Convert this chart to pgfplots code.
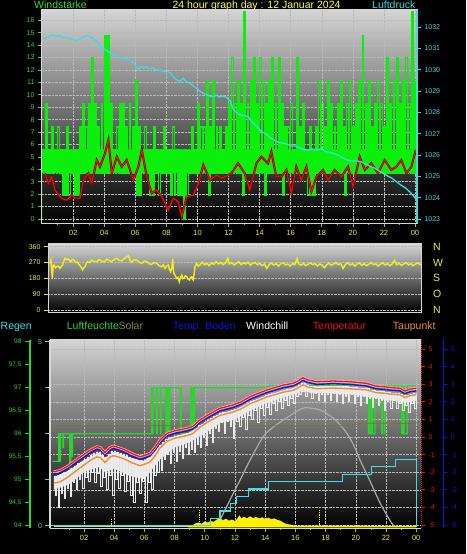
\documentclass[border=0pt]{standalone}
\usepackage{fontspec}
\setmainfont{Liberation Sans}
\usepackage{pgfplots}
\pgfplotsset{compat=1.18}
\definecolor{windgreen}{RGB}{10,240,10}
\definecolor{labgreen}{RGB}{60,215,60}
\definecolor{prcyan}{RGB}{60,220,225}
\definecolor{labyellow}{RGB}{235,235,60}
\definecolor{titleyellow}{RGB}{255,255,90}
\definecolor{gridc}{RGB}{185,185,185}
\definecolor{borderc}{RGB}{215,215,215}
\definecolor{bgtop}{RGB}{212,212,212}
\definecolor{humgreen}{RGB}{40,215,40}
\definecolor{olivec}{RGB}{125,115,40}
\definecolor{solarlab}{RGB}{130,130,50}
\definecolor{tempred}{RGB}{235,20,20}
\definecolor{bodenblue}{RGB}{20,20,225}
\definecolor{taupunkt}{RGB}{240,140,50}
\definecolor{raincyan}{RGB}{60,225,225}
\definecolor{solargray}{RGB}{170,170,170}
\definecolor{diryellow}{RGB}{240,240,25}
\definecolor{paleyg}{RGB}{200,225,120}
\pgfplotsset{
  panel/.style={scale only axis, tick align=outside,
    /pgf/number format/assume math mode=true,
    tick label style={font=\fontsize{7}{8}\selectfont},
    axis line style={-, borderc, line width=1pt},
    major grid style={gridc, densely dotted, line width=0.5pt},
    xtick pos=bottom, ytick pos=left},
  ovl/.style={scale only axis, axis x line=none, tick align=outside,
    /pgf/number format/assume math mode=true,
    /pgf/number format/1000 sep={},
    tick label style={font=\fontsize{7}{8}\selectfont},
    every outer y axis line/.append style={-},
    every inner y axis line/.append style={-}},
  hid/.style={scale only axis, hide axis},
}
\begin{document}
\begin{tikzpicture}
\useasboundingbox (0,0) rectangle (466pt,-554pt);
\fill[black] (0,0) rectangle (466pt,-554pt);
% ---------------- texts
\node[anchor=base west, inner sep=0, text=labgreen, font=\fontsize{10.5}{12}\selectfont] at (34pt,-8.5pt) {Windstärke};
\node[anchor=base, inner sep=0, text=titleyellow, font=\fontsize{10.5}{12}\selectfont] at (256.5pt,-8.5pt) {24 hour graph day : 12 Januar 2024};
\node[anchor=base west, inner sep=0, text=prcyan, font=\fontsize{10.5}{12}\selectfont] at (372pt,-8.5pt) {Luftdruck};
\begin{scope}[every node/.style={anchor=base west, inner sep=0, font=\fontsize{10.5}{12}\selectfont}]
\node[text=raincyan] at (0.5pt,-329.5pt) {Regen};
\node[text=humgreen] at (66.7pt,-329.5pt) {Luftfeuchte};
\node[text=solarlab] at (118.3pt,-329.5pt) {Solar};
\node[text=bodenblue] at (172.7pt,-329.5pt) {Temp. Boden};
\node[text=white] at (246pt,-329.5pt) {Windchill};
\node[text=tempred] at (312.7pt,-329.5pt) {Temperatur};
\node[text=taupunkt] at (392.7pt,-329.5pt) {Taupunkt};
\end{scope}
% ================= PANEL 1 : wind
\begin{axis}[panel, at={(42pt,-223pt)}, anchor=south west, width=375pt, height=213pt,
  xmin=-0.015, xmax=24.13, ymin=-0.322, ymax=16.829,
  axis background/.style={top color=bgtop, bottom color=black},
  xtick={2,4,...,24}, xticklabels={02,04,06,08,10,12,14,16,18,20,22,00},
  minor xtick={1,3,...,23}, ytick={0,1,...,16}, grid=major,
  xticklabel style={text=labyellow, font=\fontsize{7.5}{8}\selectfont},
  yticklabel style={text=labgreen},
  xtick style={draw=gray!70, line width=0.6pt}, ytick style={draw=labgreen, line width=0.8pt},
  major tick length=4pt, minor tick length=2pt]
% dense core band of the wind samples
\addplot[fill=windgreen, draw=none] coordinates {(0,3.7)(24.1,3.7)(24.1,5.6)(0,5.6)} \closedcycle;
\addplot[const plot, windgreen, line width=1.35pt] coordinates {
(0,5.6)(0.1,3.7)(0.2,9.3)(0.3,3.7)(0.4,5.6)(0.5,3.7)(0.6,7.4)(0.7,3.7)(0.8,5.6)(0.9,3.7)(1.0,7.4)(1.1,3.7)(1.2,5.6)(1.3,1.9)(1.4,5.6)(1.5,1.9)(1.6,7.4)(1.7,1.9)(1.8,5.6)(1.9,3.7)(2.0,5.6)(2.1,1.9)(2.2,5.6)(2.3,1.9)(2.4,7.4)(2.5,3.7)
(2.6,9.3)(2.7,3.7)(2.8,7.4)(2.9,3.7)(3.0,9.3)(3.1,3.7)(3.2,13.0)(3.3,3.7)(3.4,9.3)(3.5,3.7)(3.6,7.4)(3.7,3.7)(3.8,9.3)(3.9,3.7)(4.0,14.8)(4.1,3.7)(4.2,14.8)(4.3,3.7)(4.4,9.3)(4.5,3.7)(4.6,5.6)(4.7,3.7)(4.8,7.4)(4.9,3.7)(5.0,9.3)(5.1,3.7)(5.2,9.3)(5.3,3.7)(5.4,7.4)(5.5,3.7)(5.6,9.3)(5.7,3.7)(5.8,7.4)(5.9,3.7)(6.0,11.1)(6.1,1.9)(6.2,7.4)(6.3,1.9)
(6.4,5.6)(6.5,3.7)(6.6,7.4)(6.7,3.7)(6.8,5.6)(6.9,1.9)(7.0,5.6)(7.1,1.9)(7.2,7.4)(7.3,3.7)(7.4,5.6)(7.5,1.9)(7.6,5.6)(7.7,3.7)(7.8,7.4)(7.9,3.7)(8.0,5.6)(8.1,3.7)(8.2,5.6)(8.3,1.9)(8.4,7.4)(8.5,1.9)(8.6,5.6)(8.7,1.9)(8.8,5.6)(8.9,1.9)(9.0,3.7)(9.1,0)(9.2,5.6)(9.3,1.9)(9.4,5.6)(9.5,3.7)(9.6,7.4)(9.7,3.7)(9.8,5.6)(9.9,3.7)
(10.0,9.3)(10.1,3.7)(10.2,7.4)(10.3,3.7)(10.4,7.4)(10.5,3.7)(10.6,11.1)(10.7,1.9)(10.8,7.4)(10.9,3.7)(11.0,11.1)(11.1,3.7)(11.2,7.4)(11.3,3.7)(11.4,7.4)(11.5,3.7)(11.6,5.6)(11.7,3.7)(11.8,7.4)(11.9,3.7)
(12.0,9.3)(12.1,3.7)(12.2,13.0)(12.3,3.7)(12.4,9.3)(12.5,3.7)(12.6,11.1)(12.7,3.7)(12.8,9.3)(12.9,1.9)(13.0,16.7)(13.1,3.7)(13.2,9.3)(13.3,3.7)(13.4,11.1)(13.5,3.7)(13.6,13.0)(13.7,3.7)(13.8,9.3)(13.9,3.7)(14.0,13.0)(14.1,3.7)(14.2,11.1)(14.3,1.9)(14.4,9.3)(14.5,3.7)(14.6,11.1)(14.7,3.7)(14.8,13.0)(14.9,3.7)(15.0,9.3)(15.1,3.7)(15.2,13.0)(15.3,3.7)(15.4,9.3)(15.5,1.9)(15.6,7.4)(15.7,3.7)
(15.8,7.4)(15.9,3.7)(16.0,9.3)(16.1,3.7)(16.2,5.6)(16.3,3.7)(16.4,13.0)(16.5,3.7)(16.6,7.4)(16.7,3.7)(16.8,9.3)(16.9,3.7)(17.0,5.6)(17.1,1.9)(17.2,7.4)(17.3,1.9)(17.4,5.6)(17.5,1.9)(17.6,7.4)(17.7,3.7)
(17.8,11.1)(17.9,3.7)(18.0,9.3)(18.1,3.7)(18.2,7.4)(18.3,3.7)(18.4,11.1)(18.5,3.7)(18.6,9.3)(18.7,3.7)(18.8,7.4)(18.9,3.7)(19.0,9.3)(19.1,3.7)(19.2,11.1)(19.3,3.7)(19.4,7.4)(19.5,1.9)(19.6,9.3)(19.7,3.7)(19.8,11.1)(19.9,3.7)(20.0,7.4)(20.1,3.7)(20.2,9.3)(20.3,3.7)(20.4,11.1)(20.5,3.7)
(20.6,14.8)(20.7,3.7)(20.8,9.3)(20.9,3.7)(21.0,11.1)(21.1,3.7)(21.2,7.4)(21.3,3.7)(21.4,9.3)(21.5,3.7)(21.6,11.1)(21.7,3.7)(21.8,9.3)(21.9,3.7)(22.0,7.4)(22.1,3.7)(22.2,13.0)(22.3,3.7)(22.4,9.3)(22.5,3.7)(22.6,11.1)(22.7,3.7)(22.8,13.0)(22.9,3.7)(23.0,9.3)(23.1,3.7)(23.2,11.1)(23.3,3.7)(23.4,13.0)(23.5,3.7)(23.6,9.3)(23.7,3.7)(23.8,16.7)(23.9,3.7)(24.0,11.1)};
\addplot[red!55!black, line width=2.1pt] coordinates {
(0.18,3.68)(0.39,2.87)(0.61,3.4)(0.82,2.33)(1.15,1.8)(1.35,1.6)(1.58,1.53)(1.9,1.93)(2.11,1.67)(2.43,1.67)(2.65,3.14)(2.97,3.68)(3.19,2.87)(3.51,4.75)(3.72,4.21)(4.04,5.29)(4.26,6.36)(4.48,3.68)(4.8,5.02)(5.12,4.21)(5.44,4.75)(5.87,3.14)(6.19,4.21)(6.41,5.56)(6.73,3.4)(7.05,2.07)(7.37,2.33)(7.69,1.8)(8.12,0.72)(8.44,1.67)(8.76,1.39)(8.98,0.19)(9.3,1.8)(9.73,1.93)(10.05,2.87)(10.37,4.35)(10.8,3.14)(11.24,3.54)(11.56,3.28)(11.98,3.54)(12.18,3.68)(12.61,4.48)(13.04,3.68)(13.36,2.33)(13.79,4.48)(14.11,5.02)(14.54,4.48)(14.75,5.42)(15.07,3.4)(15.4,3.4)(15.72,3.95)(16.04,2.07)(16.36,4.21)(16.68,3.14)(17.01,4.21)(17.33,2.2)(17.65,3.4)(18.08,3.95)(18.4,3.14)(18.83,3.95)(19.26,3.4)(19.69,4.21)(20.01,2.6)(20.44,5.02)(20.77,3.95)(21.19,4.48)(21.62,3.68)(22.05,4.75)(22.48,3.95)(22.8,4.21)(23.12,4.75)(23.45,3.68)(23.77,4.21)(24.05,5.56)};
\addplot[tempred, line width=0.9pt] coordinates {
(0.18,3.68)(0.39,2.87)(0.61,3.4)(0.82,2.33)(1.15,1.8)(1.35,1.6)(1.58,1.53)(1.9,1.93)(2.11,1.67)(2.43,1.67)(2.65,3.14)(2.97,3.68)(3.19,2.87)(3.51,4.75)(3.72,4.21)(4.04,5.29)(4.26,6.36)(4.48,3.68)(4.8,5.02)(5.12,4.21)(5.44,4.75)(5.87,3.14)(6.19,4.21)(6.41,5.56)(6.73,3.4)(7.05,2.07)(7.37,2.33)(7.69,1.8)(8.12,0.72)(8.44,1.67)(8.76,1.39)(8.98,0.19)(9.3,1.8)(9.73,1.93)(10.05,2.87)(10.37,4.35)(10.8,3.14)(11.24,3.54)(11.56,3.28)(11.98,3.54)(12.18,3.68)(12.61,4.48)(13.04,3.68)(13.36,2.33)(13.79,4.48)(14.11,5.02)(14.54,4.48)(14.75,5.42)(15.07,3.4)(15.4,3.4)(15.72,3.95)(16.04,2.07)(16.36,4.21)(16.68,3.14)(17.01,4.21)(17.33,2.2)(17.65,3.4)(18.08,3.95)(18.4,3.14)(18.83,3.95)(19.26,3.4)(19.69,4.21)(20.01,2.6)(20.44,5.02)(20.77,3.95)(21.19,4.48)(21.62,3.68)(22.05,4.75)(22.48,3.95)(22.8,4.21)(23.12,4.75)(23.45,3.68)(23.77,4.21)(24.05,5.56)};
\end{axis}
\begin{axis}[ovl, at={(42pt,-223pt)}, anchor=south west, width=375pt, height=213pt,
  xmin=-0.015, xmax=24.13, ymin=1022.8125, ymax=1032.797,
  axis y line*=right, ytick={1023,1024,...,1032},
  yticklabel style={text=prcyan}, ytick style={draw=prcyan, line width=0.8pt},
  axis line style={-, draw=prcyan, line width=1.2pt}, major tick length=4pt]
\addplot[prcyan, line width=1.3pt] coordinates {
(0.07,1031.44)(0.3,1031.5)(0.5,1031.58)(0.71,1031.62)(0.9,1031.55)(1.1,1031.6)(1.3,1031.52)(1.58,1031.52)(1.8,1031.45)(2.0,1031.4)(2.22,1031.36)(2.4,1031.44)(2.6,1031.52)(2.87,1031.58)(3.05,1031.55)(3.29,1031.47)(3.5,1031.32)(3.7,1031.15)(3.93,1031.0)(4.1,1030.92)(4.3,1030.82)(4.58,1030.69)(4.8,1030.64)(5.0,1030.55)(5.22,1030.49)(5.4,1030.52)(5.65,1030.45)(5.9,1030.3)(6.05,1030.12)(6.19,1030.03)(6.4,1030.15)(6.55,1030.08)(6.73,1030.14)(6.9,1030.05)(7.1,1030.08)(7.3,1030.0)(7.59,1029.98)(7.8,1029.9)(8.0,1029.92)(8.23,1029.86)(8.4,1029.7)(8.6,1029.55)(8.87,1029.44)(9.09,1029.6)(9.25,1029.45)(9.52,1029.36)(9.8,1029.2)(10.1,1029.02)(10.37,1028.89)(10.6,1028.82)(10.8,1028.75)(11.02,1028.73)(11.2,1028.8)(11.4,1028.72)(11.66,1028.77)(11.85,1028.7)(12.09,1028.55)(12.3,1028.15)(12.5,1028.0)(12.74,1027.87)(13.0,1027.85)(13.25,1027.8)(13.5,1027.55)(13.8,1027.35)(14.11,1027.1)(14.4,1027.0)(14.7,1026.8)(14.9,1026.72)(15.18,1026.6)(15.5,1026.55)(15.8,1026.5)(16.0,1026.42)(16.26,1026.42)(16.5,1026.35)(16.8,1026.28)(17.12,1026.23)(17.4,1026.28)(17.7,1026.24)(17.97,1026.3)(18.2,1026.18)(18.5,1026.12)(18.83,1026.05)(19.1,1025.98)(19.4,1025.85)(19.69,1025.75)(20.0,1025.72)(20.3,1025.72)(20.55,1025.68)(20.8,1025.58)(21.1,1025.48)(21.41,1025.38)(21.7,1025.25)(22.0,1025.12)(22.27,1025.0)(22.5,1024.92)(22.8,1024.75)(23.12,1024.58)(23.4,1024.45)(23.7,1024.25)(23.99,1024.0)(24.1,1023.9)};
\end{axis}
% ================= PANEL 2 : wind direction
\begin{axis}[panel, at={(48pt,-312.3pt)}, anchor=south west, width=373.7pt, height=68.3pt,
  xmin=0, xmax=24, ymin=-13, ymax=375.4,
  axis background/.style={top color=bgtop, bottom color=black},
  xtick=\empty, ytick={0,90,180,270,360}, ymajorgrids,
  yticklabel style={text=labyellow}, ytick style={draw=labyellow, line width=0.8pt},
  major tick length=4pt]
\addplot[diryellow, line width=1.4pt] coordinates {
(0.13,265)(0.19,284)(0.28,180)(0.33,250)(0.39,256)(0.48,240)(0.56,246)(0.66,250)(0.77,237)(0.85,248)(0.94,256)(1.02,280)(1.09,294)(1.2,286)(1.31,290)(1.38,282)(1.46,275)(1.56,288)(1.67,284)(1.78,270)(1.88,275)(1.97,262)(2.06,252)(2.15,240)(2.23,228)(2.3,240)(2.38,246)(2.45,262)(2.53,275)(2.67,270)(2.81,284)(2.97,276)(3.13,275)(3.29,286)(3.45,279)(3.61,272)(3.77,290)(3.93,281)(4.09,275)(4.25,288)(4.41,294)(4.57,283)(4.73,279)(4.89,292)(5.05,301)(5.16,309)(5.26,285)(5.37,271)(5.53,286)(5.7,284)(5.86,272)(6.02,265)(6.18,278)(6.34,275)(6.5,262)(6.66,260)(6.82,270)(6.98,265)(7.14,252)(7.3,246)(7.4,258)(7.51,237)(7.62,250)(7.73,256)(7.8,232)(7.88,218)(7.95,240)(8.01,290)(8.05,230)(8.09,208)(8.18,195)(8.27,180)(8.35,186)(8.43,161)(8.51,185)(8.59,199)(8.66,178)(8.73,180)(8.82,195)(8.91,189)(9.0,175)(9.08,171)(9.15,185)(9.23,189)(9.28,176)(9.33,171)(9.44,246)(9.55,265)(9.65,250)(9.76,256)(9.9,272)(10.05,258)(10.2,266)(10.35,252)(10.5,268)(10.65,260)(10.8,275)(10.95,262)(11.1,270)(11.25,258)(11.4,268)(11.55,294)(11.65,262)(11.8,270)(11.95,256)(12.1,266)(12.25,275)(12.4,258)(12.55,268)(12.7,262)(12.85,272)(13.0,255)(13.15,265)(13.3,270)(13.45,258)(13.6,266)(13.75,252)(13.9,262)(14.05,237)(14.2,258)(14.35,268)(14.5,256)(14.65,264)(14.8,250)(14.95,262)(15.1,270)(15.25,256)(15.4,262)(15.55,250)(15.7,264)(15.85,258)(16.0,292)(16.1,262)(16.25,255)(16.4,266)(16.55,252)(16.7,260)(16.85,268)(17.0,258)(17.15,264)(17.3,250)(17.45,262)(17.6,256)(17.75,240)(17.9,258)(18.05,266)(18.2,254)(18.35,262)(18.5,270)(18.65,258)(18.8,264)(18.95,237)(19.1,260)(19.25,268)(19.4,256)(19.55,264)(19.7,250)(19.85,262)(20.0,268)(20.15,255)(20.3,264)(20.45,252)(20.6,260)(20.75,270)(20.9,258)(21.05,264)(21.2,250)(21.35,262)(21.5,268)(21.65,256)(21.8,264)(21.95,252)(22.1,262)(22.25,282)(22.4,258)(22.55,266)(22.7,254)(22.85,262)(23.0,270)(23.15,256)(23.3,264)(23.45,252)(23.6,262)(23.75,268)(23.9,258)(24.0,262)};
\end{axis}
\begin{axis}[ovl, at={(48pt,-312.3pt)}, anchor=south west, width=373.7pt, height=68.3pt,
  xmin=0, xmax=24, ymin=-13, ymax=375.4, axis y line*=right,
  ytick={0,90,180,270,360}, yticklabels={N,O,S,W,N},
  yticklabel style={text=labyellow, font=\fontsize{10.5}{12}\selectfont, xshift=8pt},
  major tick length=0pt, axis line style={draw=none}]
\end{axis}
% ================= PANEL 3 : temperatures etc.
\begin{axis}[panel, at={(50pt,-528pt)}, anchor=south west, width=371pt, height=188.5pt,
  xmin=-0.252, xmax=24.32, ymin=-5.17, ymax=5.54,
  axis background/.style={top color=bgtop, bottom color=black},
  separate axis lines, y axis line style={draw=none},
  xtick={2,4,...,24}, xticklabels={02,04,06,08,10,12,14,16,18,20,22,00},
  minor xtick={1,3,...,23}, ytick={-5,-4,...,5}, yticklabel=\empty, grid=major,
  xticklabel style={text=labyellow, font=\fontsize{7.5}{8}\selectfont},
  xtick style={draw=gray!70, line width=0.6pt}, ytick style={draw=none},
  major tick length=4pt, minor tick length=2pt]
\end{axis}
% solar
\begin{axis}[hid, at={(50pt,-528pt)}, anchor=south west, width=371pt, height=188.5pt,
  xmin=-0.252, xmax=24.32, ymin=-5.3, ymax=999]
\addplot[paleyg, line width=2.4pt] coordinates {(0,4)(9.5,4)};
\addplot[solargray, line width=1.2pt, smooth] coordinates {
(10.56,0)(10.8,15)(11.0,37)(11.89,180)(12.4,260)(13.0,357)(13.87,481)(14.5,530)(15.2,570)(16.3,627)(16.64,636)(17.63,624)(18.51,580)(18.9,550)(19.4,500)(19.9,430)(20.28,357)(20.8,270)(21.16,206)(21.6,130)(22.05,64)(22.3,30)(22.48,11)(22.7,0)};
\addplot[fill=yellow, draw=yellow, line width=0.5pt] coordinates {
(8.9,0)(8.9,3)(9.2,8)(9.4,18)(9.6,22)(9.8,15)(10.0,28)(10.2,22)(10.4,30)(10.6,26)(10.8,38)(11.0,45)(11.2,35)(11.4,42)(11.6,32)(11.8,38)(12.0,30)(12.15,42)(12.3,60)(12.4,45)(12.6,52)(12.8,44)(13.0,55)(13.2,46)(13.4,52)(13.6,44)(13.8,50)(14.0,42)(14.2,48)(14.4,40)(14.6,44)(14.8,36)(15.0,32)(15.2,22)(15.4,15)(15.6,12)(15.9,8)(16.2,6)(24.0,5)(24.0,0)} \closedcycle;
\addplot[ycomb, yellow, densely dotted, line width=0.8pt] coordinates {(3.83,48)(9.62,90)(17.6,90)};
\end{axis}
% humidity
\begin{axis}[hid, at={(50pt,-528pt)}, anchor=south west, width=371pt, height=188.5pt,
  xmin=-0.252, xmax=24.32, ymin=93.95, ymax=98.048]
\addplot[humgreen, line width=1.1pt] coordinates {
(-0.1,95.4)(0.33,95.4)(0.33,96.0)(0.4,96.0)(0.4,95.4)(0.45,95.4)(0.45,96.0)(0.6,96.0)(0.6,95.7)(0.65,95.7)(0.65,96.0)(1.05,96.0)(1.05,95.0)(1.12,95.0)(1.12,96.0)(1.2,96.0)(1.2,95.5)(1.25,95.5)(1.25,96.0)
(6.48,96.0)(6.48,97.0)(6.53,97.0)(6.53,96.0)(6.58,96.0)(6.58,97.0)(6.8,97.0)(6.8,96.0)(6.85,96.0)(6.85,97.0)(7.06,97.0)(7.06,96.0)(7.1,96.0)(7.1,97.0)(7.43,97.0)(7.43,96.0)(7.48,96.0)(7.48,97.0)(7.53,97.0)(7.53,96.0)(7.58,96.0)(7.58,97.0)(7.63,97.0)(7.63,96.0)(7.68,96.0)(7.68,97.0)(8.38,97.0)(8.38,96.0)(8.42,96.0)(8.42,97.0)(8.45,97.0)(8.45,96.0)
(9.07,96.0)(9.07,97.0)(9.12,97.0)(9.12,96.0)(9.17,96.0)(9.17,97.0)(9.22,97.0)(9.22,96.0)(9.3,96.0)(9.3,97.0)(14.0,97.0)(14.3,97.05)(20.83,97.05)(20.83,96.0)(20.9,96.0)(20.9,97.0)(20.95,97.0)(20.95,96.0)(21.05,96.0)(21.05,96.9)(21.1,96.9)(21.1,96.0)(21.27,96.0)(21.27,97.05)(21.71,97.05)(21.71,96.0)(21.76,96.0)(21.76,97.05)(21.88,97.05)(21.88,96.0)(21.93,96.0)(21.93,97.05)(23.04,97.05)(23.04,96.0)(23.12,96.0)(23.12,97.0)(23.2,97.0)(23.2,96.0)(23.41,96.0)(23.41,97.05)(24.0,97.05)};
\end{axis}
% rain
\begin{axis}[hid, at={(50pt,-528pt)}, anchor=south west, width=371pt, height=188.5pt,
  xmin=-0.252, xmax=24.32, ymin=-0.0625, ymax=5.06]
\addplot[raincyan, line width=1.3pt] coordinates {
(-0.2,0)(10.4,0)(10.4,0.2)(11.0,0.2)(11.0,0.4)(11.7,0.4)(11.7,0.6)(12.1,0.6)(12.1,0.8)(12.9,0.8)(12.9,1.0)(14.2,1.0)(14.2,1.2)(19.1,1.2)(19.1,1.4)(21.05,1.4)(21.05,1.6)(22.65,1.6)(22.65,1.8)(24.0,1.8)(24.0,0)(24.2,0)};
\end{axis}
% temperatures
\begin{axis}[hid, at={(50pt,-528pt)}, anchor=south west, width=371pt, height=188.5pt,
  xmin=-0.252, xmax=24.32, ymin=-5.17, ymax=5.54]
\addplot[olivec, line width=0.8pt] coordinates {(-0.25,0.64)(19.4,0.64)(20.5,0.78)(24.0,0.78)};
% dense core of the windchill samples
\addplot[fill=white!90!black, draw=none] coordinates {
(0,-2.27)(1,-1.9)(2,-1.3)(3,-0.88)(3.4,-1.19)(4,-0.82)(5,-1.16)(6,-1.35)(7,-0.5)(8,0.05)(9,0.25)(10,0.82)(11,1.33)(12,1.55)(13,1.99)(14,2.34)(15,2.6)(16,2.82)(16.5,3.05)(17,2.88)(18,2.88)(19,2.86)(20,2.8)(21,2.67)(22,2.54)(23,2.44)(23.2,2.33)(24,2.47)
(24,2.05)(23.2,1.95)(23,2.0)(22,2.1)(21,2.25)(20,2.4)(19,2.45)(18,2.5)(17,2.5)(16.5,2.65)(16,2.45)(15,2.2)(14,1.9)(13,1.5)(12,1.0)(11,0.8)(10,0.2)(9,-0.3)(8,-0.6)(7,-1.3)(6,-2.4)(5,-2.2)(4,-1.8)(3.4,-2.0)(3,-1.7)(2,-2.0)(1,-2.7)(0,-3.0)} -- cycle;
\addplot[const plot, white!92!black, line width=1.0pt] coordinates {
(0.0,-2.27)(0.1,-3.3)(0.2,-2.23)(0.3,-4.0)(0.4,-2.2)(0.5,-3.2)(0.6,-2.1)(0.7,-3.5)(0.8,-2.0)(0.9,-2.9)(1.0,-1.9)(1.1,-3.4)(1.2,-1.77)(1.3,-2.6)(1.4,-1.65)(1.5,-3.0)(1.6,-1.53)(1.7,-2.4)(1.8,-1.42)(1.9,-2.9)(2.0,-1.3)(2.1,-2.3)(2.2,-1.17)(2.3,-2.5)(2.4,-1.05)(2.5,-2.0)(2.6,-0.96)(2.7,-2.6)(2.8,-0.86)(2.9,-2.1)(3.0,-0.88)(3.1,-2.8)(3.2,-1.0)(3.3,-2.3)(3.4,-1.19)(3.5,-3.0)(3.6,-1.0)(3.7,-2.2)(3.8,-0.85)(3.9,-3.3)(4.0,-0.82)(4.1,-2.4)(4.2,-0.87)(4.3,-2.9)(4.4,-0.93)(4.5,-2.2)(4.6,-1.0)(4.7,-3.1)(4.8,-1.07)(4.9,-2.5)(5.0,-1.16)(5.1,-3.3)(5.2,-1.25)(5.3,-3.7)(5.4,-1.32)(5.5,-2.6)(5.6,-1.39)(5.7,-3.2)(5.8,-1.4)(5.9,-2.5)(6.0,-1.35)(6.1,-3.7)(6.2,-1.29)(6.3,-2.6)(6.4,-1.2)(6.5,-3.0)(6.6,-1.0)(6.7,-2.2)(6.8,-0.72)(6.9,-2.0)(7.0,-0.5)(7.1,-1.9)(7.2,-0.3)(7.3,-1.3)(7.4,-0.15)(7.5,-1.0)(7.6,-0.06)(7.7,-1.5)(7.8,0.0)(7.9,-0.9)(8.0,0.05)(8.1,-1.4)(8.2,0.08)(8.3,-0.8)(8.4,0.11)(8.5,-1.2)(8.6,0.15)(8.7,-0.6)(8.8,0.19)(8.9,-1.0)(9.0,0.25)(9.1,-0.7)(9.2,0.3)(9.3,-0.9)(9.4,0.45)(9.5,-0.4)(9.6,0.63)(9.7,-0.6)(9.8,0.73)(9.9,0.0)(10.0,0.82)(10.1,-0.5)(10.2,0.95)(10.3,0.2)(10.4,1.05)(10.5,-0.3)(10.6,1.15)(10.7,0.5)(10.8,1.25)(10.9,0.3)(11.0,1.33)(11.1,0.8)(11.2,1.38)(11.3,0.2)(11.4,1.42)(11.5,0.9)(11.6,1.47)(11.7,0.6)(11.8,1.5)(11.9,-0.1)(12.0,1.55)(12.1,0.9)(12.2,1.63)(12.3,0.6)(12.4,1.7)(12.5,1.1)(12.6,1.8)(12.7,0.4)(12.8,1.9)(12.9,1.2)(13.0,1.99)(13.1,1.0)(13.2,2.06)(13.3,1.5)(13.4,2.13)(13.5,0.8)(13.6,2.2)(13.7,1.6)(13.8,2.27)(13.9,1.2)(14.0,2.34)(14.1,1.7)(14.2,2.4)(14.3,1.3)(14.4,2.45)(14.5,1.9)(14.6,2.5)(14.7,1.5)(14.8,2.55)(14.9,2.0)(15.0,2.6)(15.1,1.6)(15.2,2.65)(15.3,2.1)(15.4,2.68)(15.5,1.8)(15.6,2.72)(15.7,2.2)(15.8,2.75)(15.9,1.9)(16.0,2.82)(16.1,2.3)(16.2,2.9)(16.3,2.4)(16.4,3.03)(16.5,2.6)(16.6,3.05)(16.7,2.3)(16.8,2.95)(16.9,2.6)(17.0,2.88)(17.1,2.2)(17.2,2.85)(17.3,2.5)(17.4,2.84)(17.5,2.1)(17.6,2.85)(17.7,2.4)(17.8,2.87)(17.9,2.0)(18.0,2.88)(18.1,2.4)(18.2,2.89)(18.3,2.1)(18.4,2.88)(18.5,2.5)(18.6,2.87)(18.7,2.0)(18.8,2.86)(18.9,2.4)(19.0,2.86)(19.1,1.9)(19.2,2.85)(19.3,2.3)(19.4,2.85)(19.5,2.0)(19.6,2.84)(19.7,2.4)(19.8,2.82)(19.9,1.9)(20.0,2.8)(20.1,2.3)(20.2,2.78)(20.3,1.8)(20.4,2.77)(20.5,2.3)(20.6,2.75)(20.7,1.9)(20.8,2.73)(20.9,2.2)(21.0,2.67)(21.1,1.7)(21.2,2.62)(21.3,2.2)(21.4,2.59)(21.5,1.8)(21.6,2.57)(21.7,2.1)(21.8,2.56)(21.9,1.5)(22.0,2.54)(22.1,2.0)(22.2,2.52)(22.3,1.6)(22.4,2.5)(22.5,2.1)(22.6,2.49)(22.7,1.6)(22.8,2.48)(22.9,1.9)(23.0,2.44)(23.1,1.5)(23.2,2.33)(23.3,1.8)(23.4,2.35)(23.5,1.4)(23.6,2.42)(23.7,1.9)(23.8,2.46)(23.9,1.6)(24.0,2.47)};
\addplot[taupunkt, line width=1.4pt] coordinates {
(0.0,-2.62)(0.4,-2.55)(0.85,-2.33)(1.4,-1.97)(1.95,-1.62)(2.4,-1.34)(2.84,-1.13)(3.1,-1.17)(3.39,-1.45)(3.7,-1.15)(3.94,-1.06)(4.3,-1.14)(4.72,-1.27)(5.2,-1.47)(5.71,-1.63)(6.0,-1.55)(6.37,-1.42)(6.7,-1.08)(7.03,-0.63)(7.48,-0.25)(8.0,-0.07)(8.8,0.08)(9.2,0.19)(9.68,0.57)(10.3,0.9)(11.0,1.23)(11.87,1.42)(12.4,1.6)(13.0,1.89)(14.1,2.27)(15.2,2.55)(15.84,2.65)(16.2,2.8)(16.5,2.97)(16.8,2.85)(17.4,2.74)(18.5,2.78)(19.6,2.74)(20.7,2.68)(21.3,2.53)(21.8,2.49)(22.4,2.43)(22.93,2.4)(23.25,2.24)(23.6,2.35)(24.0,2.4)};
\addplot[bodenblue, line width=1.4pt] coordinates {
(0.0,-2.12)(0.4,-2.05)(0.85,-1.84)(1.4,-1.5)(1.95,-1.17)(2.4,-0.9)(2.84,-0.7)(3.1,-0.75)(3.39,-1.04)(3.7,-0.75)(3.94,-0.66)(4.3,-0.75)(4.72,-0.89)(5.2,-1.1)(5.71,-1.27)(6.0,-1.2)(6.37,-1.08)(6.7,-0.75)(7.03,-0.32)(7.48,0.05)(8.0,0.2)(8.8,0.34)(9.2,0.45)(9.68,0.82)(10.3,1.15)(11.0,1.48)(11.87,1.67)(12.4,1.85)(13.0,2.14)(14.1,2.52)(15.2,2.8)(15.84,2.9)(16.2,3.05)(16.5,3.22)(16.8,3.1)(17.4,2.99)(18.5,3.03)(19.6,2.99)(20.7,2.9)(21.3,2.75)(21.8,2.71)(22.4,2.65)(22.93,2.62)(23.25,2.46)(23.6,2.57)(24.0,2.62)};
\addplot[white!75!red, line width=2.6pt] coordinates {
(0.0,-1.97)(0.4,-1.9)(0.85,-1.69)(1.4,-1.35)(1.95,-1.02)(2.4,-0.75)(2.84,-0.55)(3.1,-0.6)(3.39,-0.89)(3.7,-0.6)(3.94,-0.51)(4.3,-0.6)(4.72,-0.74)(5.2,-0.95)(5.71,-1.12)(6.0,-1.05)(6.37,-0.93)(6.7,-0.6)(7.03,-0.17)(7.48,0.2)(8.0,0.35)(8.8,0.49)(9.2,0.6)(9.68,0.97)(10.3,1.3)(11.0,1.63)(11.87,1.82)(12.4,2.0)(13.0,2.29)(14.1,2.67)(15.2,2.95)(15.84,3.05)(16.2,3.2)(16.5,3.37)(16.8,3.25)(17.4,3.14)(18.5,3.18)(19.6,3.14)(20.7,3.05)(21.3,2.9)(21.8,2.86)(22.4,2.8)(22.93,2.77)(23.25,2.61)(23.6,2.72)(24.0,2.77)};
\addplot[tempred, line width=1.3pt] coordinates {
(0.0,-1.97)(0.4,-1.9)(0.85,-1.69)(1.4,-1.35)(1.95,-1.02)(2.4,-0.75)(2.84,-0.55)(3.1,-0.6)(3.39,-0.89)(3.7,-0.6)(3.94,-0.51)(4.3,-0.6)(4.72,-0.74)(5.2,-0.95)(5.71,-1.12)(6.0,-1.05)(6.37,-0.93)(6.7,-0.6)(7.03,-0.17)(7.48,0.2)(8.0,0.35)(8.8,0.49)(9.2,0.6)(9.68,0.97)(10.3,1.3)(11.0,1.63)(11.87,1.82)(12.4,2.0)(13.0,2.29)(14.1,2.67)(15.2,2.95)(15.84,3.05)(16.2,3.2)(16.5,3.37)(16.8,3.25)(17.4,3.14)(18.5,3.18)(19.6,3.14)(20.7,3.05)(21.3,2.9)(21.8,2.86)(22.4,2.8)(22.93,2.77)(23.25,2.61)(23.6,2.72)(24.0,2.77)};
\end{axis}
% axis decorations panel 3
\begin{axis}[ovl, at={(30pt,-528pt)}, anchor=south west, width=1pt, height=188.5pt,
  xmin=0, xmax=1, ymin=93.95, ymax=98.048, axis y line*=left,
  ytick={94,94.5,...,98}, /pgf/number format/use comma,
  yticklabel style={text=humgreen, font=\fontsize{6.5}{8}\selectfont}, ytick style={draw=humgreen, line width=0.9pt},
  axis line style={-, draw=humgreen, line width=1.8pt}, major tick length=5pt]
\end{axis}
\begin{axis}[ovl, at={(50pt,-528pt)}, anchor=south west, width=371pt, height=188.5pt,
  xmin=0, xmax=1, ymin=-0.0625, ymax=5.06, axis y line*=left,
  ytick={0,1.25,2.5,3.75,5}, yticklabels={0,,,,5},
  yticklabel style={text=raincyan}, ytick style={draw=raincyan, line width=0.9pt},
  axis line style={-, draw=borderc, line width=1.2pt}, major tick length=4.5pt]
\end{axis}
\begin{axis}[ovl, at={(50pt,-528pt)}, anchor=south west, width=371pt, height=188.5pt,
  xmin=0, xmax=1, ymin=-5.17, ymax=5.54, axis y line*=right,
  ytick={-5,-4,...,5},
  yticklabel style={text=tempred}, ytick style={draw=tempred, line width=0.9pt},
  axis line style={-, draw=tempred, densely dotted, line width=1pt}, major tick length=4pt]
\end{axis}
\begin{axis}[ovl, at={(442.3pt,-528pt)}, anchor=south west, width=1pt, height=188.5pt,
  xmin=0, xmax=1, ymin=-5.17, ymax=5.54, axis y line*=right,
  ytick={-5,-4,...,5},
  yticklabel style={text=bodenblue}, ytick style={draw=bodenblue, line width=0.9pt},
  axis line style={-, draw=bodenblue, line width=1.4pt}, major tick length=4pt]
\end{axis}
\end{tikzpicture}
\end{document}
